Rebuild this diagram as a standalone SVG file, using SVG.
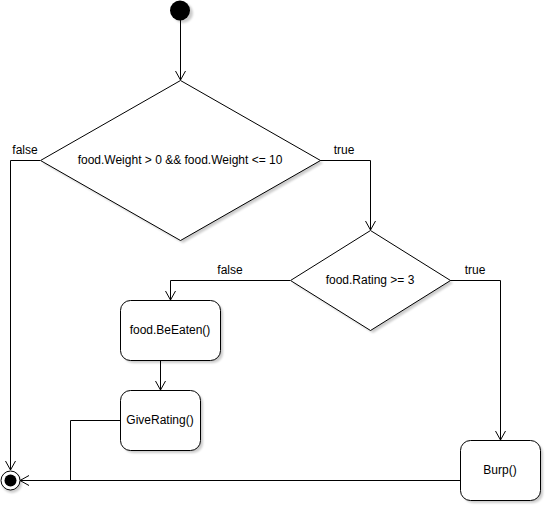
<svg xmlns="http://www.w3.org/2000/svg" width="545" height="505" viewBox="0 0 545 505">
<defs>
<style>
text{font-family:"Liberation Sans",Arial,sans-serif;font-size:12px;fill:#000}
.c{text-anchor:middle}
.sh{fill:#000;opacity:0.2;stroke:none}
.n{fill:#fff;stroke:#000;stroke-width:1}
.e{fill:none;stroke:#000;stroke-width:1}
</style>
<marker id="ah" markerWidth="12" markerHeight="12" refX="10" refY="6" orient="auto" markerUnits="userSpaceOnUse">
<path d="M1,1 L10,6 L1,11" fill="none" stroke="#000" stroke-width="1"/>
</marker>
<filter id="blur" x="-10%" y="-10%" width="130%" height="130%"><feGaussianBlur stdDeviation="1"/></filter>
</defs>
<rect width="545" height="505" fill="#fff"/>
<g id="edges">
<path class="e" d="M180.5,20 V80" marker-end="url(#ah)"/>
<path class="e" d="M40,160.5 H10.5 V470" marker-end="url(#ah)"/>
<path class="e" d="M320,160.5 H370.5 V230" marker-end="url(#ah)"/>
<path class="e" d="M290,280.5 H170.5 V300" marker-end="url(#ah)"/>
<path class="e" d="M450,280.5 H500.5 V440" marker-end="url(#ah)"/>
<path class="e" d="M160.5,360 V390" marker-end="url(#ah)"/>
<path class="e" d="M120,420.5 H70.5 V480.5"/>
<path class="e" d="M460,480.5 H20" marker-end="url(#ah)"/>
<text x="25" y="154" class="c">false</text>
<text x="344" y="154" class="c">true</text>
<text x="230" y="274" class="c">false</text>
<text x="475" y="274" class="c">true</text>
</g>
<g id="start">
<circle cx="183" cy="13" r="10" class="sh" filter="url(#blur)"/>
<circle cx="180" cy="10.5" r="10" fill="#000"/>
</g>
<g id="decision1">
<path d="M183,83 L323,163 L183,243 L43,163 Z" class="sh" filter="url(#blur)"/>
<path d="M180.5,80.5 L320.5,160.5 L180.5,240.5 L40.5,160.5 Z" class="n"/>
<text x="180" y="164" class="c">food.Weight &gt; 0 &amp;&amp; food.Weight &lt;= 10</text>
</g>
<g id="decision2">
<path d="M373,233 L453,283 L373,333 L293,283 Z" class="sh" filter="url(#blur)"/>
<path d="M370.5,230.5 L450.5,280.5 L370.5,330.5 L290.5,280.5 Z" class="n"/>
<text x="370" y="284" class="c">food.Rating &gt;= 3</text>
</g>
<g id="beEaten">
<rect x="123" y="303" width="100" height="60" rx="10" class="sh" filter="url(#blur)"/>
<rect x="120.5" y="300.5" width="100" height="60" rx="10" class="n"/>
<text x="170" y="334" class="c">food.BeEaten()</text>
</g>
<g id="giveRating">
<rect x="123" y="393" width="80" height="60" rx="10" class="sh" filter="url(#blur)"/>
<rect x="120.5" y="390.5" width="80" height="60" rx="10" class="n"/>
<text x="160" y="424" class="c">GiveRating()</text>
</g>
<g id="burp">
<rect x="463" y="443" width="80" height="60" rx="10" class="sh" filter="url(#blur)"/>
<rect x="460.5" y="440.5" width="80" height="60" rx="10" class="n"/>
<text x="500" y="474" class="c">Burp()</text>
</g>
<g id="end">
<circle cx="12" cy="483" r="10" class="sh" filter="url(#blur)"/>
<circle cx="10.5" cy="480.5" r="9.5" fill="#fff" stroke="#000" stroke-width="1"/>
<circle cx="10.5" cy="480.5" r="6" fill="#000"/>
</g>
</svg>
